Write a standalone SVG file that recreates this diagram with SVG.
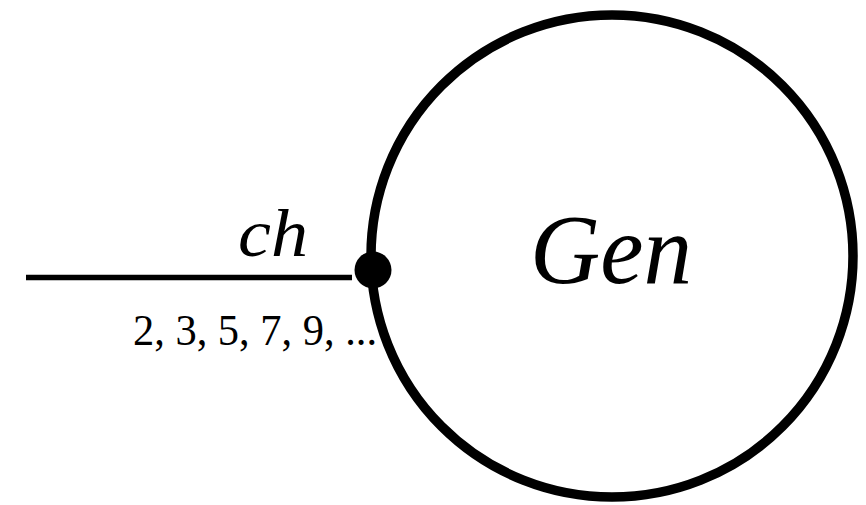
<svg xmlns="http://www.w3.org/2000/svg" width="866" height="505" viewBox="0 0 866 505">
<style>
.t{font-family:"Liberation Serif","DejaVu Serif",serif;fill:#000}
.i{font-style:italic}
</style>
<rect width="866" height="505" fill="#fff"/>
<g id="connectors">
<line x1="26" y1="277.5" x2="352" y2="277.5" stroke="#000" stroke-width="5.5"/>
</g>
<g id="gen">
<circle cx="612" cy="256" r="241" fill="none" stroke="#000" stroke-width="9.5"/>
<text class="t i" x="530" y="283" font-size="100" textLength="162" lengthAdjust="spacingAndGlyphs">Gen</text>
</g>
<g id="port">
<circle cx="373" cy="270" r="18.5" fill="#000"/>
</g>
<g id="labels">
<text class="t i" x="238" y="256" font-size="68" textLength="70" lengthAdjust="spacingAndGlyphs">ch</text>
<text class="t" x="133" y="345" font-size="45" textLength="244" lengthAdjust="spacingAndGlyphs">2, 3, 5, 7, 9, ...</text>
</g>
</svg>
